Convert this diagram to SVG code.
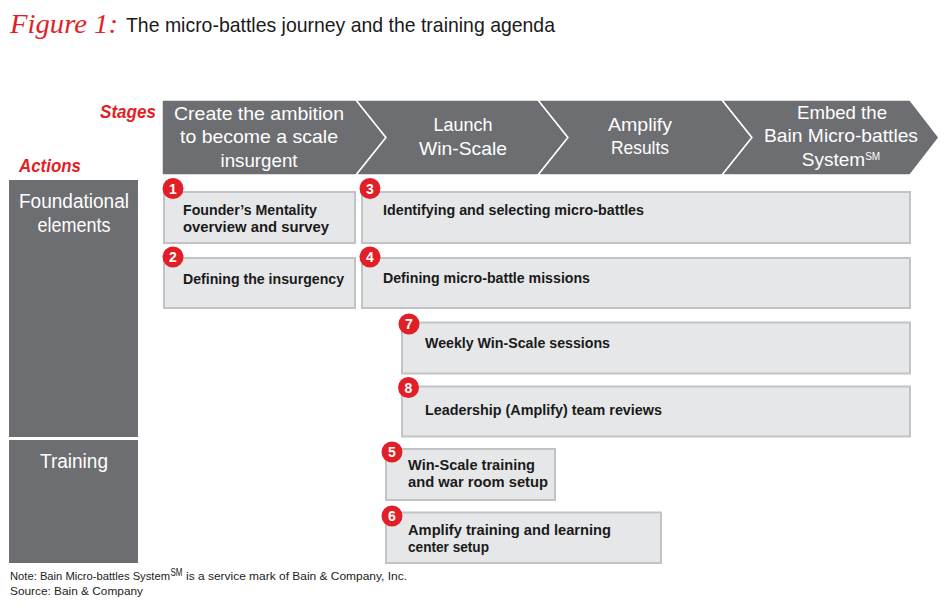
<svg xmlns="http://www.w3.org/2000/svg" width="950" height="609" viewBox="0 0 950 609">
<style>
  .stage { fill: #6d6e71; stroke: #ffffff; stroke-width: 1.5; stroke-linejoin: miter; }
  .stxt { font-family: "Liberation Sans", Arial, sans-serif; font-size: 19px; fill: #ffffff; text-anchor: middle; }
  .col { fill: #6d6e71; }
  .ctxt { font-family: "Liberation Sans", Arial, sans-serif; font-size: 20px; fill: #ffffff; text-anchor: middle; }
  .box { fill: #e6e7e8; stroke: #c2c3c5; stroke-width: 2; }
  .btxt { font-family: "Liberation Sans", Arial, sans-serif; font-size: 15px; font-weight: bold; fill: #1a1a1a; }
  .badge { fill: #e11f26; }
  .num { font-family: "Liberation Sans", Arial, sans-serif; font-size: 14px; font-weight: bold; fill: #ffffff; text-anchor: middle; }
  .red { font-family: "Liberation Sans", Arial, sans-serif; font-size: 18px; font-weight: bold; font-style: italic; fill: #e11f26; }
  .note { font-family: "Liberation Sans", Arial, sans-serif; font-size: 11px; fill: #222222; }
</style>

<!-- Title -->
<text x="10" y="33" font-family="'Liberation Serif', serif" font-style="italic" font-size="28" fill="#e11f26" textLength="108" lengthAdjust="spacingAndGlyphs">Figure 1:</text>
<text x="126" y="32" font-family="'Liberation Sans', Arial, sans-serif" font-size="21" fill="#1a1a1a" textLength="429" lengthAdjust="spacingAndGlyphs">The micro-battles journey and the training agenda</text>

<text class="red" x="100" y="118" textLength="56" lengthAdjust="spacingAndGlyphs">Stages</text>
<text class="red" x="19" y="172" textLength="62" lengthAdjust="spacingAndGlyphs">Actions</text>

<!-- Stage chevrons -->
<g id="stage1">
  <polygon class="stage" points="162,100 356,100 386,137.5 356,175 162,175"/>
  <text class="stxt" x="259" y="120" textLength="170" lengthAdjust="spacingAndGlyphs">Create the ambition</text>
  <text class="stxt" x="259" y="143" textLength="158" lengthAdjust="spacingAndGlyphs">to become a scale</text>
  <text class="stxt" x="259" y="166.5" textLength="77" lengthAdjust="spacingAndGlyphs">insurgent</text>
</g>
<g id="stage2">
  <polygon class="stage" points="356,100 538,100 568,137.5 538,175 356,175 386,137.5"/>
  <text class="stxt" x="463" y="131" textLength="59" lengthAdjust="spacingAndGlyphs">Launch</text>
  <text class="stxt" x="463" y="154.5" textLength="88" lengthAdjust="spacingAndGlyphs">Win-Scale</text>
</g>
<g id="stage3">
  <polygon class="stage" points="538,100 722,100 752,137.5 722,175 538,175 568,137.5"/>
  <text class="stxt" x="640" y="130.5" textLength="64" lengthAdjust="spacingAndGlyphs">Amplify</text>
  <text class="stxt" x="640" y="153.5" textLength="58" lengthAdjust="spacingAndGlyphs">Results</text>
</g>
<g id="stage4">
  <polygon class="stage" points="722,100 910,100 939,137.5 910,175 722,175 752,137.5"/>
  <text class="stxt" x="842" y="118.5" textLength="90" lengthAdjust="spacingAndGlyphs">Embed the</text>
  <text class="stxt" x="841" y="142" textLength="154" lengthAdjust="spacingAndGlyphs">Bain Micro-battles</text>
  <text class="stxt" x="841" y="166" font-size="17">System<tspan font-size="10" dy="-6">SM</tspan></text>
</g>

<!-- Action rows -->
<g id="row-foundational">
  <rect class="col" x="9" y="180" width="129" height="257"/>
  <text class="ctxt" x="74" y="208" textLength="110" lengthAdjust="spacingAndGlyphs">Foundational</text>
  <text class="ctxt" x="74" y="232" textLength="73" lengthAdjust="spacingAndGlyphs">elements</text>
</g>
<g id="row-training">
  <rect class="col" x="9" y="440" width="129" height="123"/>
  <text class="ctxt" x="74" y="468" textLength="68" lengthAdjust="spacingAndGlyphs">Training</text>
</g>

<!-- Action boxes -->
<g id="action1">
  <rect class="box" x="164" y="192" width="191" height="51"/>
  <circle class="badge" cx="173" cy="188.5" r="10.5"/>
  <text class="num" x="173" y="193.5">1</text>
  <text class="btxt" x="183" y="214.5" textLength="134" lengthAdjust="spacingAndGlyphs">Founder’s Mentality</text>
  <text class="btxt" x="183" y="232" textLength="146" lengthAdjust="spacingAndGlyphs">overview and survey</text>
</g>
<g id="action2">
  <rect class="box" x="164" y="258" width="191" height="50"/>
  <circle class="badge" cx="173" cy="257" r="10.5"/>
  <text class="num" x="173" y="262">2</text>
  <text class="btxt" x="183" y="283.5" textLength="161" lengthAdjust="spacingAndGlyphs">Defining the insurgency</text>
</g>
<g id="action3">
  <rect class="box" x="362" y="192" width="548" height="51"/>
  <circle class="badge" cx="370" cy="188.5" r="10.5"/>
  <text class="num" x="370" y="193.5">3</text>
  <text class="btxt" x="383" y="215" textLength="261" lengthAdjust="spacingAndGlyphs">Identifying and selecting micro-battles</text>
</g>
<g id="action4">
  <rect class="box" x="362" y="258" width="548" height="50"/>
  <circle class="badge" cx="370" cy="257" r="10.5"/>
  <text class="num" x="370" y="262">4</text>
  <text class="btxt" x="383" y="283" textLength="207" lengthAdjust="spacingAndGlyphs">Defining micro-battle missions</text>
</g>
<g id="action7">
  <rect class="box" x="402" y="322.5" width="508" height="51"/>
  <circle class="badge" cx="409" cy="324" r="10.5"/>
  <text class="num" x="409" y="329">7</text>
  <text class="btxt" x="425" y="347.5" textLength="185" lengthAdjust="spacingAndGlyphs">Weekly Win-Scale sessions</text>
</g>
<g id="action8">
  <rect class="box" x="402" y="386.5" width="508" height="50"/>
  <circle class="badge" cx="408.5" cy="387.5" r="10.5"/>
  <text class="num" x="408.5" y="392.5">8</text>
  <text class="btxt" x="425" y="414.5" textLength="237" lengthAdjust="spacingAndGlyphs">Leadership (Amplify) team reviews</text>
</g>
<g id="action5">
  <rect class="box" x="386" y="449" width="169" height="51"/>
  <circle class="badge" cx="392" cy="452" r="10.5"/>
  <text class="num" x="392" y="457">5</text>
  <text class="btxt" x="408" y="469.5" textLength="127" lengthAdjust="spacingAndGlyphs">Win-Scale training</text>
  <text class="btxt" x="408" y="487" textLength="140" lengthAdjust="spacingAndGlyphs">and war room setup</text>
</g>
<g id="action6">
  <rect class="box" x="386" y="512.5" width="275" height="50.5"/>
  <circle class="badge" cx="392" cy="516" r="10.5"/>
  <text class="num" x="392" y="521">6</text>
  <text class="btxt" x="408" y="534.5" textLength="203" lengthAdjust="spacingAndGlyphs">Amplify training and learning</text>
  <text class="btxt" x="408" y="552" textLength="81" lengthAdjust="spacingAndGlyphs">center setup</text>
</g>

<g id="connectors"></g>

<!-- Notes -->
<text class="note" x="10" y="580" textLength="160" lengthAdjust="spacingAndGlyphs">Note: Bain Micro-battles System</text>
<text class="note" x="170.5" y="576" font-size="7" textLength="12" lengthAdjust="spacingAndGlyphs">SM</text>
<text class="note" x="186" y="580" textLength="221" lengthAdjust="spacingAndGlyphs">is a service mark of Bain &amp; Company, Inc.</text>
<text class="note" x="10" y="595" textLength="133" lengthAdjust="spacingAndGlyphs">Source: Bain &amp; Company</text>
</svg>
